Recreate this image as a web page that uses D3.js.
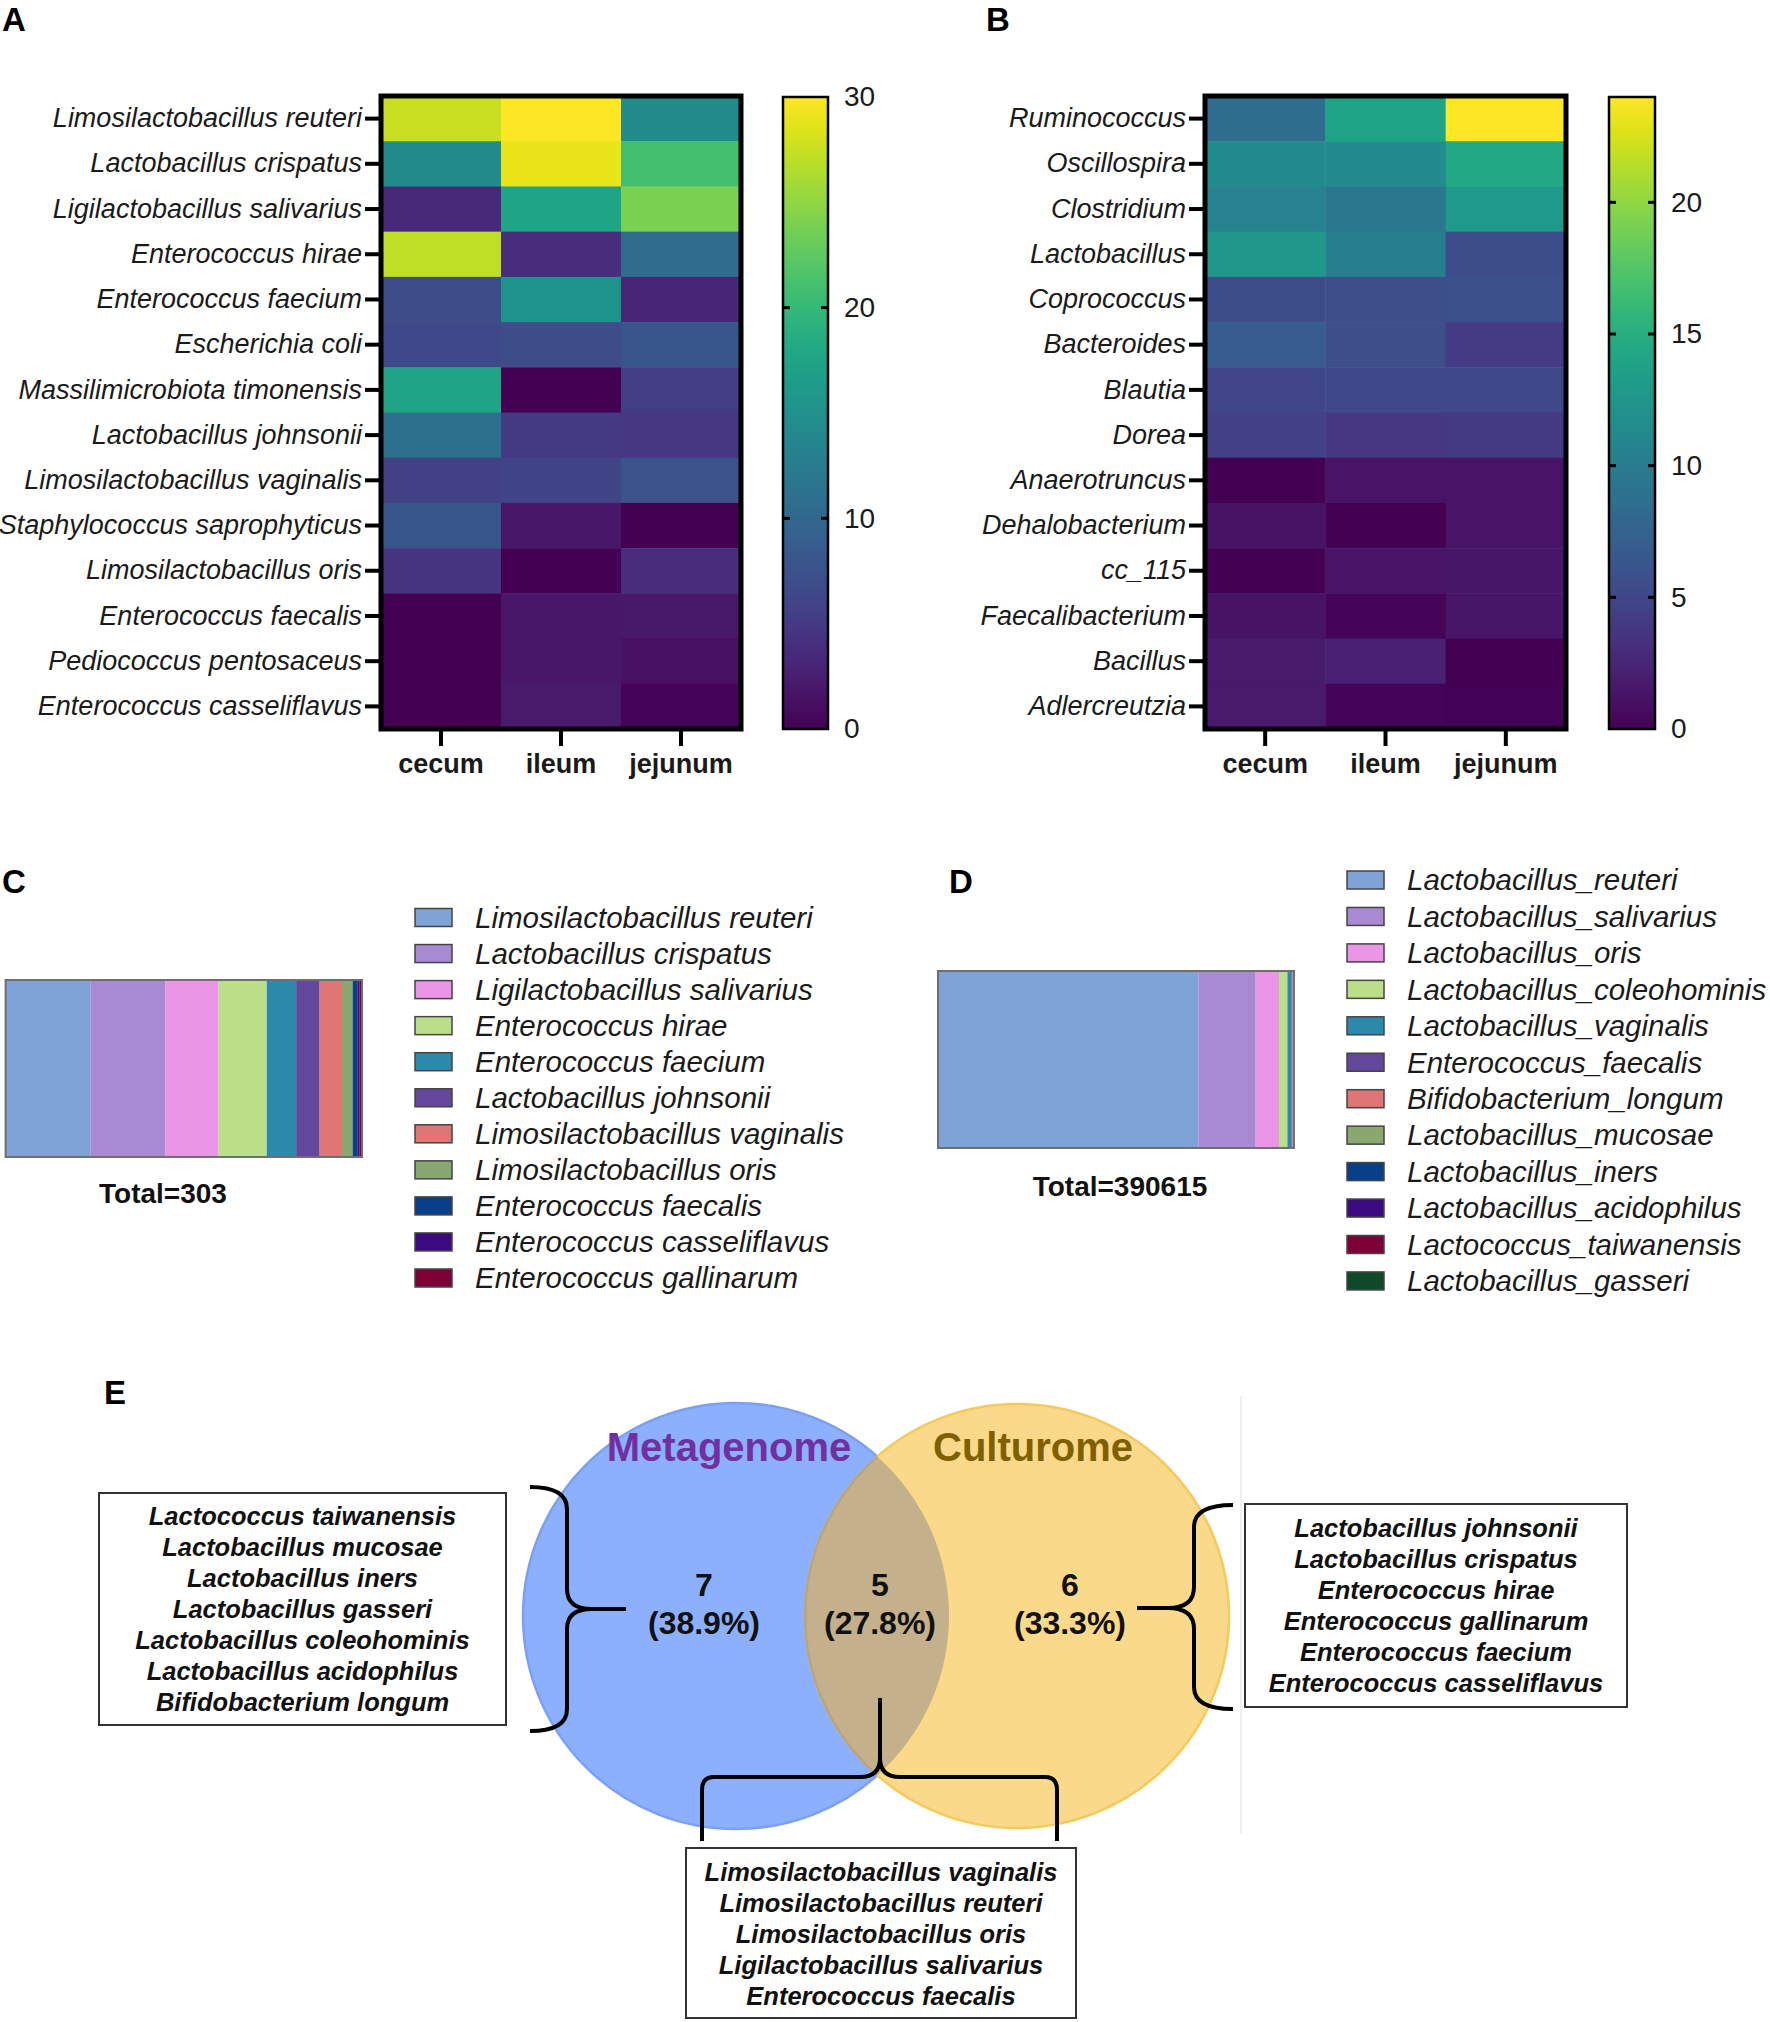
<!DOCTYPE html>
<html><head><meta charset="utf-8">
<script src="https://cdn.jsdelivr.net/npm/d3@7"></script>
<style>
body{margin:0;background:#fff;}
svg{display:block;font-family:"Liberation Sans",Arial,sans-serif;}
</style></head>
<body><svg id="fig" width="1770" height="2022"></svg>
<script>
// ---------- DATA ----------
const sites = ["cecum", "ileum", "jejunum"];

const speciesA = ["Limosilactobacillus reuteri","Lactobacillus crispatus","Ligilactobacillus salivarius","Enterococcus hirae","Enterococcus faecium","Escherichia coli","Massilimicrobiota timonensis","Lactobacillus johnsonii","Limosilactobacillus vaginalis","Staphylococcus saprophyticus","Limosilactobacillus oris","Enterococcus faecalis","Pediococcus pentosaceus","Enterococcus casseliflavus"];
const valuesA = [
  [27.5, 30, 14.5],
  [14.5, 29, 21],
  [3.5, 17.5, 24],
  [27, 3.8, 10.5],
  [6.8, 15.5, 3.2],
  [6.5, 6.8, 8],
  [17.5, 0, 5.3],
  [11, 5, 4.8],
  [5.8, 6.0, 7.5],
  [8, 1.8, 0],
  [4.5, 0, 3.8],
  [0, 1.8, 1.9],
  [0, 1.8, 1.2],
  [0, 2.0, 0.3]
];
const ticksA = [0, 10, 20, 30];
const maxA = 30;

const speciesB = ["Ruminococcus","Oscillospira","Clostridium","Lactobacillus","Coprococcus","Bacteroides","Blautia","Dorea","Anaerotruncus","Dehalobacterium","cc_115","Faecalibacterium","Bacillus","Adlercreutzia"];
const valuesB = [
  [8.5, 14, 24],
  [11.5, 11.5, 14.4],
  [10.5, 9.5, 13],
  [12.8, 10.2, 5.6],
  [5.6, 5.8, 5.9],
  [7.0, 5.8, 4.2],
  [5.0, 5.2, 5.2],
  [4.5, 3.8, 4.0],
  [0, 1.3, 1.3],
  [1.2, 0, 1.3],
  [0, 1.3, 1.4],
  [1.2, 0.2, 1.4],
  [1.6, 2.2, 0],
  [1.6, 0.2, 0.1]
];
const ticksB = [0, 5, 10, 15, 20];
const maxB = 24;

const cSpecies = ["Limosilactobacillus reuteri","Lactobacillus crispatus","Ligilactobacillus salivarius","Enterococcus hirae","Enterococcus faecium","Lactobacillus johnsonii","Limosilactobacillus vaginalis","Limosilactobacillus oris","Enterococcus faecalis","Enterococcus casseliflavus","Enterococcus gallinarum"];
const cCounts = [72, 64, 45, 41, 25, 20, 19, 9, 4, 2, 2];
const cTotalLabel = "Total=303";

const dSpecies = ["Lactobacillus_reuteri","Lactobacillus_salivarius","Lactobacillus_oris","Lactobacillus_coleohominis","Lactobacillus_vaginalis","Enterococcus_faecalis","Bifidobacterium_longum","Lactobacillus_mucosae","Lactobacillus_iners","Lactobacillus_acidophilus","Lactococcus_taiwanensis","Lactobacillus_gasseri"];
const dCounts = [286045, 62540, 25570, 9220, 4390, 1200, 600, 400, 250, 200, 120, 80];
const dTotalLabel = "Total=390615";

const paletteCD = ["#7fa2d7","#a78ad2","#ea95e6","#bbdf89","#2b89ab","#62479a","#df7575","#89a86f","#083f88","#3c0a80","#7d0037","#0e4a2a"];

const vennOnlyMeta = ["Lactococcus taiwanensis","Lactobacillus mucosae","Lactobacillus iners","Lactobacillus gasseri","Lactobacillus coleohominis","Lactobacillus acidophilus","Bifidobacterium longum"];
const vennShared = ["Limosilactobacillus vaginalis","Limosilactobacillus reuteri","Limosilactobacillus oris","Ligilactobacillus salivarius","Enterococcus faecalis"];
const vennOnlyCult = ["Lactobacillus johnsonii","Lactobacillus crispatus","Enterococcus hirae","Enterococcus gallinarum","Enterococcus faecium","Enterococcus casseliflavus"];
const vennCounts = [7, 5, 6];
const vennPct = ["(38.9%)", "(27.8%)", "(33.3%)"];
const vennNames = ["Metagenome", "Culturome"];

// ---------- DRAW ----------
const svg = d3.select("#fig");
const defs = svg.append("defs");

function panelLetter(t, x, y) {
  svg.append("text").attr("x", x).attr("y", y).text(t)
    .attr("font-size", 33).attr("font-weight", "bold").attr("fill", "#000");
}
panelLetter("A", 2, 30.5);
panelLetter("B", 986, 30.5);
panelLetter("C", 2, 893);
panelLetter("D", 949, 893);
panelLetter("E", 104, 1404);

function heatmap(opts) {
  const {species, values, x0, x1, y0, y1, cb0, cb1, vmax, ticks, id} = opts;
  const g = svg.append("g");
  const x = d3.scaleBand().domain(sites).range([x0, x1]);
  const y = d3.scaleBand().domain(species).range([y0, y1]);
  const color = d3.scaleSequential(d3.interpolateViridis).domain([0, vmax]);
  const cells = [];
  species.forEach((s, i) => sites.forEach((c, j) => cells.push({s, c, v: values[i][j]})));
  g.selectAll("rect.cell").data(cells).join("rect").attr("class", "cell")
    .attr("x", d => x(d.c)).attr("y", d => y(d.s))
    .attr("width", x.bandwidth() + 0.5).attr("height", y.bandwidth() + 0.5)
    .attr("fill", d => color(d.v));
  g.append("rect").attr("x", x0).attr("y", y0).attr("width", x1 - x0).attr("height", y1 - y0)
    .attr("fill", "none").attr("stroke", "#000").attr("stroke-width", 5);
  // y axis
  const ya = g.append("g").attr("transform", `translate(${x0 - 2},0)`)
    .call(d3.axisLeft(y).tickSize(14).tickPadding(3));
  ya.select(".domain").remove();
  ya.selectAll("line").attr("stroke", "#000").attr("stroke-width", 4);
  ya.selectAll("text").attr("font-size", 27).attr("font-style", "italic").attr("fill", "#1a1a1a")
    .attr("font-family", "Liberation Sans, Arial, sans-serif");
  // x axis
  const xa = g.append("g").attr("transform", `translate(0,${y1 + 2})`)
    .call(d3.axisBottom(x).tickSize(15).tickPadding(8));
  xa.select(".domain").remove();
  xa.selectAll("line").attr("stroke", "#000").attr("stroke-width", 4);
  xa.selectAll("text").attr("font-size", 27).attr("font-weight", "bold").attr("fill", "#1a1a1a")
    .attr("font-family", "Liberation Sans, Arial, sans-serif");
  // colorbar
  const cy = d3.scaleLinear().domain([0, vmax]).range([y1, y0 + 1]);
  const grad = defs.append("linearGradient").attr("id", id).attr("x1", 0).attr("x2", 0).attr("y1", 1).attr("y2", 0);
  d3.range(0, 1.0001, 0.05).forEach(t => grad.append("stop").attr("offset", t).attr("stop-color", d3.interpolateViridis(t)));
  g.append("rect").attr("x", cb0).attr("y", cy(vmax)).attr("width", cb1 - cb0).attr("height", cy(0) - cy(vmax))
    .attr("fill", `url(#${id})`).attr("stroke", "#000").attr("stroke-width", 2.5);
  const inner = ticks.filter(t => t > 0 && t < vmax);
  g.selectAll("line.cbl").data(inner).join("line").attr("x1", cb0).attr("x2", cb0 + 7)
    .attr("y1", d => cy(d)).attr("y2", d => cy(d)).attr("stroke", "#000").attr("stroke-width", 3);
  g.selectAll("line.cbr").data(inner).join("line").attr("x1", cb1 - 7).attr("x2", cb1)
    .attr("y1", d => cy(d)).attr("y2", d => cy(d)).attr("stroke", "#000").attr("stroke-width", 3);
  const ca = g.append("g").attr("transform", `translate(${cb1},0)`)
    .call(d3.axisRight(cy).tickValues(ticks).tickSize(0).tickPadding(16));
  ca.select(".domain").remove();
  ca.selectAll("text").attr("font-size", 28).attr("fill", "#1a1a1a")
    .attr("font-family", "Liberation Sans, Arial, sans-serif");
}

heatmap({species: speciesA, values: valuesA, x0: 381, x1: 741, y0: 96, y1: 729, cb0: 783, cb1: 828, vmax: maxA, ticks: ticksA, id: "gA"});
heatmap({species: speciesB, values: valuesB, x0: 1205, x1: 1566, y0: 96, y1: 729, cb0: 1609, cb1: 1655, vmax: maxB, ticks: ticksB, id: "gB"});

function stackBar(opts) {
  const {names, counts, bx0, bx1, by0, by1, lx, ly0, lstep, totalLabel, tx, ty} = opts;
  const g = svg.append("g");
  const total = d3.sum(counts);
  const x = d3.scaleLinear().domain([0, total]).range([bx0, bx1]);
  const cum = d3.cumsum(counts);
  const segs = counts.map((c, i) => ({start: cum[i] - c, end: cum[i], color: paletteCD[i]}));
  g.selectAll("rect.seg").data(segs).join("rect")
    .attr("x", d => x(d.start)).attr("width", d => Math.max(0, x(d.end) - x(d.start)))
    .attr("y", by0).attr("height", by1 - by0).attr("fill", d => d.color);
  g.append("rect").attr("x", bx0).attr("y", by0).attr("width", bx1 - bx0).attr("height", by1 - by0)
    .attr("fill", "none").attr("stroke", "#6f6f6f").attr("stroke-width", 2);
  g.append("text").attr("x", tx).attr("y", ty).attr("text-anchor", "middle")
    .attr("font-size", 28).attr("font-weight", "bold").attr("fill", "#111").text(totalLabel);
  const ly = d3.scalePoint().domain(names).range([ly0, ly0 + lstep * (names.length - 1)]);
  const items = g.selectAll("g.leg").data(names).join("g").attr("transform", d => `translate(${lx},${ly(d)})`);
  items.append("rect").attr("x", 0).attr("y", -9).attr("width", 37).attr("height", 18)
    .attr("fill", (d, i) => paletteCD[i]).attr("stroke", "#444").attr("stroke-width", 1.5);
  items.append("text").attr("x", 60).attr("y", 0).attr("dy", "0.35em").attr("font-size", 29.5)
    .attr("font-style", "italic").attr("fill", "#1a1a1a").text(d => d);
}

stackBar({names: cSpecies, counts: cCounts, bx0: 5.6, bx1: 362, by0: 980, by1: 1157, lx: 415, ly0: 917.5, lstep: 36.05, totalLabel: cTotalLabel, tx: 163, ty: 1203});
stackBar({names: dSpecies, counts: dCounts, bx0: 938, bx1: 1294, by0: 971, by1: 1148, lx: 1347, ly0: 880, lstep: 36.45, totalLabel: dTotalLabel, tx: 1120, ty: 1196});

// ---------- VENN ----------
const vg = svg.append("g");
vg.append("line").attr("x1", 1241).attr("x2", 1241).attr("y1", 1396).attr("y2", 1834)
  .attr("stroke", "#efefef").attr("stroke-width", 2);
const circles = [{cx: 736, cy: 1616, r: 213, fill: "#8cb0fd", stroke: "#7c9ff6"},
                 {cx: 1017, cy: 1616, r: 212, fill: "#fbd98a", stroke: "#f6c95c"}];
vg.selectAll("circle.v").data(circles).join("circle")
  .attr("cx", d => d.cx).attr("cy", d => d.cy).attr("r", d => d.r)
  .attr("fill", d => d.fill).attr("stroke", d => d.stroke).attr("stroke-width", 2.5);
defs.append("clipPath").attr("id", "clipBlue").append("circle")
  .attr("cx", circles[0].cx).attr("cy", circles[0].cy).attr("r", circles[0].r);
vg.append("circle").attr("clip-path", "url(#clipBlue)")
  .attr("cx", circles[1].cx).attr("cy", circles[1].cy).attr("r", circles[1].r)
  .attr("fill", "#c4b08a").attr("stroke", "#b5a486").attr("stroke-width", 2.5);

vg.append("text").attr("x", 729).attr("y", 1461).attr("text-anchor", "middle")
  .attr("font-size", 40).attr("font-weight", "bold").attr("fill", "#7030a0").text(vennNames[0]);
vg.append("text").attr("x", 1033).attr("y", 1461).attr("text-anchor", "middle")
  .attr("font-size", 40).attr("font-weight", "bold").attr("fill", "#7f6000").text(vennNames[1]);

const numX = [704, 880, 1070];
vennCounts.forEach((n, i) => {
  vg.append("text").attr("x", numX[i]).attr("y", 1596).attr("text-anchor", "middle")
    .attr("font-size", 32).attr("font-weight", "bold").attr("fill", "#111").text(n);
  vg.append("text").attr("x", numX[i]).attr("y", 1634).attr("text-anchor", "middle")
    .attr("font-size", 32).attr("font-weight", "bold").attr("fill", "#111").text(vennPct[i]);
});

function listBox(names, bx, by, bw, bh, cx, y0) {
  vg.append("rect").attr("x", bx).attr("y", by).attr("width", bw).attr("height", bh)
    .attr("fill", "#fff").attr("stroke", "#333").attr("stroke-width", 2);
  vg.selectAll(null).data(names).join("text")
    .attr("x", cx).attr("y", (d, i) => y0 + i * 31).attr("dy", "0.35em").attr("text-anchor", "middle")
    .attr("font-size", 25.5).attr("font-weight", "bold").attr("font-style", "italic").attr("fill", "#111")
    .text(d => d);
}
listBox(vennOnlyMeta, 99, 1493, 407, 232, 302.5, 1516);
listBox(vennOnlyCult, 1245, 1504, 382, 203, 1436, 1528);
listBox(vennShared, 686, 1848, 390, 170, 881, 1872);

const braces = [
  "M530,1487 Q567,1487 567,1509 L567,1589 Q567,1609 592,1609 L626,1609 M592,1609 Q567,1609 567,1629 L567,1709 Q567,1731 530,1731",
  "M1233,1505 Q1194,1505 1194,1527 L1194,1587 Q1194,1608 1168,1608 L1137,1608 M1168,1608 Q1194,1608 1194,1629 L1194,1687 Q1194,1709 1233,1709",
  "M880,1698 L880,1758 Q880,1777 860,1777 L714,1777 Q702,1777 702,1790 L702,1841 M880,1758 Q880,1777 900,1777 L1045,1777 Q1057,1777 1057,1790 L1057,1841"
];
vg.selectAll("path.brace").data(braces).join("path").attr("d", d => d)
  .attr("fill", "none").attr("stroke", "#000").attr("stroke-width", 4);
</script>
</body></html>
